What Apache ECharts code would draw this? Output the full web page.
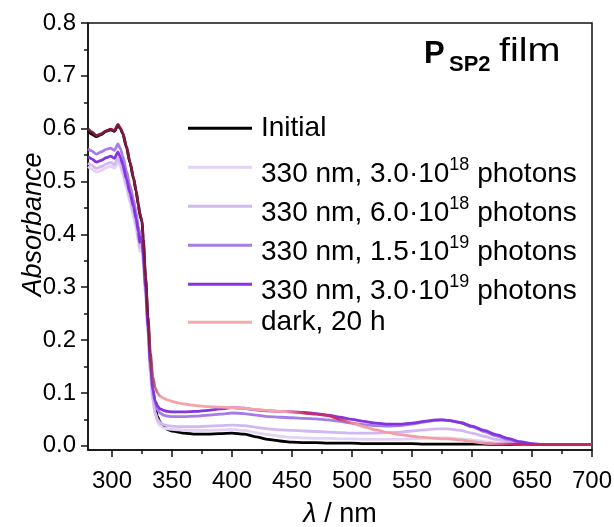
<!DOCTYPE html>
<html>
<head>
<meta charset="utf-8">
<script src="https://cdn.jsdelivr.net/npm/echarts@6/dist/echarts.min.js"></script>
<style>
  html, body { margin: 0; padding: 0; background: #fff; }
  #chart { width: 614px; height: 527px; }
</style>
</head>
<body>
<div id="chart"></div>
<script>
// Wavelength grid (nm) shared by all spectra
const wavelengths = [
  280, 283, 287, 291, 295, 299, 302, 305, 307, 309,
  312, 315, 318, 320, 322, 323, 324, 325, 326, 328,
  330, 332, 334, 336, 338, 340, 343, 346, 350, 355,
  360, 370, 380, 390, 400, 410, 420, 430, 440, 450,
  460, 470, 480, 490, 500, 510, 520, 530, 540, 550,
  560, 570, 575, 580, 590, 600, 610, 620, 630, 640,
  650, 660, 670, 680, 690, 700
];

// Absorbance spectra
const absInitial = [
  0.596, 0.590, 0.585, 0.589, 0.595, 0.598, 0.595, 0.606, 0.600, 0.590,
  0.565, 0.535, 0.505, 0.482, 0.455, 0.440, 0.430, 0.425, 0.390, 0.315,
  0.235, 0.160, 0.105, 0.072, 0.055, 0.045, 0.036, 0.031, 0.028, 0.026,
  0.024, 0.022, 0.022, 0.023, 0.024, 0.022, 0.017, 0.012, 0.009, 0.007,
  0.006, 0.006, 0.005, 0.005, 0.005, 0.004, 0.004, 0.004, 0.004, 0.004,
  0.003, 0.003, 0.003, 0.003, 0.003, 0.003, 0.003, 0.002, 0.002, 0.002,
  0.002, 0.002, 0.002, 0.002, 0.002, 0.002
];
const abs30e18 = [
  0.528, 0.524, 0.518, 0.521, 0.526, 0.529, 0.525, 0.538, 0.528, 0.513,
  0.488, 0.460, 0.432, 0.412, 0.385, 0.368, 0.375, 0.372, 0.345, 0.285,
  0.210, 0.135, 0.085, 0.058, 0.044, 0.038, 0.034, 0.032, 0.031, 0.030,
  0.029, 0.029, 0.029, 0.030, 0.031, 0.029, 0.025, 0.021, 0.018, 0.016,
  0.015, 0.014, 0.014, 0.013, 0.013, 0.012, 0.012, 0.012, 0.012, 0.013,
  0.014, 0.015, 0.015, 0.015, 0.013, 0.011, 0.008, 0.006, 0.004, 0.003,
  0.002, 0.002, 0.002, 0.002, 0.002, 0.002
];
const abs60e18 = [
  0.535, 0.531, 0.525, 0.528, 0.533, 0.536, 0.532, 0.545, 0.535, 0.520,
  0.495, 0.468, 0.440, 0.420, 0.393, 0.375, 0.382, 0.378, 0.350, 0.290,
  0.215, 0.140, 0.090, 0.063, 0.050, 0.044, 0.040, 0.038, 0.037, 0.036,
  0.036, 0.036, 0.037, 0.038, 0.039, 0.038, 0.035, 0.032, 0.030, 0.029,
  0.028, 0.027, 0.026, 0.025, 0.024, 0.024, 0.024, 0.025, 0.026, 0.028,
  0.030, 0.032, 0.032, 0.032, 0.029, 0.024, 0.018, 0.012, 0.008, 0.005,
  0.003, 0.002, 0.002, 0.002, 0.002, 0.002
];
const abs15e19 = [
  0.562, 0.558, 0.552, 0.556, 0.561, 0.563, 0.559, 0.571, 0.562, 0.548,
  0.520, 0.492, 0.465, 0.442, 0.415, 0.398, 0.405, 0.398, 0.368, 0.305,
  0.230, 0.155, 0.105, 0.080, 0.068, 0.062, 0.058, 0.056, 0.055, 0.055,
  0.055, 0.056, 0.058, 0.060, 0.062, 0.061, 0.058, 0.055, 0.054, 0.053,
  0.052, 0.051, 0.049, 0.046, 0.043, 0.040, 0.038, 0.037, 0.038, 0.041,
  0.045, 0.048, 0.049, 0.048, 0.044, 0.036, 0.027, 0.019, 0.012, 0.006,
  0.003, 0.002, 0.002, 0.002, 0.002, 0.002
];
const abs30e19 = [
  0.547, 0.543, 0.537, 0.540, 0.545, 0.548, 0.544, 0.556, 0.546, 0.532,
  0.505, 0.478, 0.452, 0.430, 0.405, 0.385, 0.395, 0.390, 0.360, 0.300,
  0.225, 0.155, 0.108, 0.085, 0.075, 0.070, 0.067, 0.065, 0.064, 0.064,
  0.064, 0.065, 0.067, 0.070, 0.072, 0.071, 0.068, 0.066, 0.065, 0.064,
  0.063, 0.061, 0.058, 0.054, 0.050, 0.046, 0.043, 0.041, 0.041, 0.043,
  0.046, 0.049, 0.049, 0.048, 0.044, 0.037, 0.029, 0.021, 0.014, 0.008,
  0.004, 0.002, 0.002, 0.002, 0.002, 0.002
];
const absDark = [
  0.600, 0.594, 0.587, 0.590, 0.596, 0.599, 0.596, 0.608, 0.601, 0.592,
  0.567, 0.537, 0.507, 0.484, 0.457, 0.442, 0.432, 0.427, 0.393, 0.320,
  0.245, 0.175, 0.130, 0.110, 0.100, 0.094, 0.090, 0.087, 0.084, 0.081,
  0.079, 0.076, 0.074, 0.073, 0.072, 0.071, 0.069, 0.067, 0.065, 0.064,
  0.062, 0.060, 0.057, 0.050, 0.043, 0.036, 0.030, 0.025, 0.021, 0.018,
  0.016, 0.014, 0.013, 0.013, 0.011, 0.008, 0.005, 0.003, 0.003, 0.003,
  0.002, 0.002, 0.002, 0.002, 0.002, 0.002
];

// Legend entries (^ marks the exponent written as a superscript)
const seriesNames = [
  'Initial',
  '330 nm, 3.0·10^18 photons',
  '330 nm, 6.0·10^18 photons',
  '330 nm, 1.5·10^19 photons',
  '330 nm, 3.0·10^19 photons',
  'dark, 20 h'
];
const seriesData = [absInitial, abs30e18, abs60e18, abs15e19, abs30e19, absDark];
const seriesColors = ['#000000', '#e3d1f6', '#d2b8f2', '#a77ce6', '#8435e0', '#f3abac'];

// Axis ticks
const xMajorTicks = [300, 350, 400, 450, 500, 550, 600, 650, 700];
const xMinorTicks = [325, 375, 425, 475, 525, 575, 625, 675];
const yMajorTicks = [0, 0.1, 0.2, 0.3, 0.4, 0.5, 0.6, 0.7, 0.8];
const yMinorTicks = [0.05, 0.15, 0.25, 0.35, 0.45, 0.55, 0.65, 0.75];

const FONT = '"Liberation Sans", Arial, sans-serif';
const AXIS_COLOR = '#111';

const chart = echarts.init(document.getElementById('chart'), null, { renderer: 'canvas' });

const gridBox = { left: 88, right: 22, top: 23, bottom: 77, containLabel: false, outerBoundsMode: 'none' };

// Colour of the dark-relaxed trace varies where it overlaps the other traces
const darkStroke = new echarts.graphic.LinearGradient(88, 0, 592, 0, [
  { offset: 0.000, color: '#7f1a3e' },
  { offset: 0.120, color: '#7f1a3e' },
  { offset: 0.145, color: '#f2a4a7' },
  { offset: 0.390, color: '#f2a4a7' },
  { offset: 0.430, color: '#c2306b' },
  { offset: 0.495, color: '#c2306b' },
  { offset: 0.535, color: '#f0a0a4' },
  { offset: 0.780, color: '#f0a0a4' },
  { offset: 0.850, color: '#c0246c' },
  { offset: 1.000, color: '#c0246c' }
], true);

const series = seriesNames.map((name, i) => ({
  name: name,
  type: 'line',
  xAxisIndex: 0,
  yAxisIndex: 0,
  showSymbol: false,
  symbol: 'none',
  smooth: 0.25,
  smoothMonotone: 'x',
  animation: false,
  itemStyle: { color: seriesColors[i] },
  lineStyle: {
    width: 2.8,
    color: name === 'dark, 20 h' ? darkStroke : seriesColors[i]
  },
  data: wavelengths.map((w, k) => [w, seriesData[i][k]])
}));

// Key: a short stroke and a label per trace; labels with an exponent sit a little lower
const KEY_LEFT = 188, KEY_TOP = 128.3, KEY_STEP = 39, KEY_SWATCH = 64, KEY_TEXT_X = 261;
const keyRich = {
  t: { fontFamily: FONT, fontSize: 28, padding: [4, 0, 0, 0], verticalAlign: 'bottom', fill: '#000' },
  s: { fontFamily: FONT, fontSize: 18, verticalAlign: 'top', fill: '#000' },
  c: { fontFamily: FONT, fontSize: 28, fill: '#000' }
};
const keyGraphics = [];
seriesNames.forEach((name, i) => {
  const lineY = KEY_TOP + i * KEY_STEP - (i === seriesNames.length - 1 ? 1 : 0);
  const m = name.match(/^(.*·10)\^(\d+)( photons)$/);
  keyGraphics.push({
    type: 'rect', silent: true,
    shape: { x: KEY_LEFT, y: lineY - 1.5, width: KEY_SWATCH, height: 3 },
    style: { fill: seriesColors[i] }
  });
  keyGraphics.push({
    type: 'text', silent: true, x: KEY_TEXT_X, y: m ? lineY + 4.5 : lineY,
    style: {
      text: m ? '{t|' + m[1] + '}{s|' + m[2] + '}{t|' + m[3] + '}' : '{c|' + name + '}',
      rich: keyRich,
      font: '28px ' + FONT,
      fill: '#000',
      align: 'left',
      verticalAlign: 'middle'
    }
  });
});

const option = {
  backgroundColor: '#fff',
  animation: false,
  grid: [
    Object.assign({ show: true, borderColor: AXIS_COLOR, borderWidth: 1.5, backgroundColor: 'transparent' }, gridBox),
    Object.assign({ show: false }, gridBox)
  ],
  xAxis: [
    {
      type: 'value', gridIndex: 0, min: 280, max: 700, position: 'bottom',
      name: '{i|λ}{n| / nm}', nameLocation: 'middle', nameGap: 51, nameMoveOverlap: false,
      nameTextStyle: {
        fontFamily: FONT, fontSize: 27, color: '#000',
        rich: {
          i: { fontFamily: FONT, fontSize: 27, fontStyle: 'italic', color: '#000' },
          n: { fontFamily: FONT, fontSize: 27, color: '#000' }
        }
      },
      axisLine: { show: true, onZero: false, lineStyle: { color: AXIS_COLOR, width: 1.5 } },
      axisTick: { show: true, inside: false, length: 7, customValues: xMajorTicks, lineStyle: { color: AXIS_COLOR, width: 1.5 } },
      axisLabel: { customValues: xMajorTicks, margin: 19, fontFamily: FONT, fontSize: 24, color: '#000' },
      splitLine: { show: false }
    },
    {
      type: 'value', gridIndex: 1, min: 280, max: 700, position: 'bottom',
      axisLine: { show: false, onZero: false },
      axisTick: { show: true, inside: false, length: 4, customValues: xMinorTicks, lineStyle: { color: AXIS_COLOR, width: 1.5 } },
      axisLabel: { show: false },
      splitLine: { show: false }
    }
  ],
  yAxis: [
    {
      type: 'value', gridIndex: 0, min: -0.008, max: 0.8, position: 'left',
      name: 'Absorbance', nameLocation: 'middle', nameGap: 41, nameRotate: 90, nameMoveOverlap: false,
      nameTextStyle: { fontFamily: FONT, fontSize: 27, fontStyle: 'italic', color: '#000', padding: [0, 0, 0, 24] },
      axisLine: { show: true, onZero: false, lineStyle: { color: AXIS_COLOR, width: 1.5 } },
      axisTick: { show: true, inside: false, length: 7, customValues: yMajorTicks, lineStyle: { color: AXIS_COLOR, width: 1.5 } },
      axisLabel: {
        customValues: yMajorTicks, margin: 12, fontFamily: FONT, fontSize: 24, color: '#000',
        formatter: v => v.toFixed(1)
      },
      splitLine: { show: false }
    },
    {
      type: 'value', gridIndex: 1, min: -0.008, max: 0.8, position: 'left',
      axisLine: { show: false, onZero: false },
      axisTick: { show: true, inside: false, length: 4, customValues: yMinorTicks, lineStyle: { color: AXIS_COLOR, width: 1.5 } },
      axisLabel: { show: false },
      splitLine: { show: false }
    }
  ],
  graphic: [
    { type: 'text', silent: true, left: 424, top: 39, style: { text: 'P', font: 'bold 31px ' + FONT, fill: '#000' } },
    { type: 'text', silent: true, left: 449, top: 54, style: { text: 'SP2', font: 'bold 22px ' + FONT, fill: '#000' } },
    { type: 'text', silent: true, x: 499, y: 35, scaleX: 1.2, style: { text: 'film', font: '33px ' + FONT, fill: '#000' } }
  ].concat(keyGraphics),
  series: series
};

chart.setOption(option);
</script>
</body>
</html>
